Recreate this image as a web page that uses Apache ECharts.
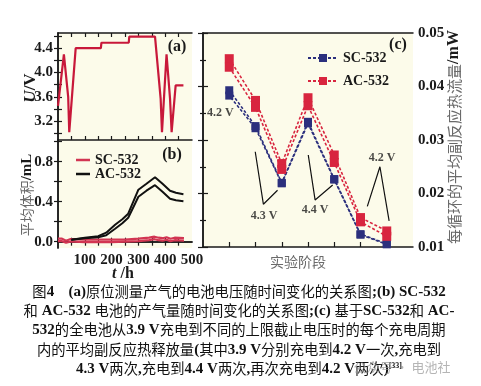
<!DOCTYPE html>
<html><head><meta charset="utf-8">
<script src="https://cdn.jsdelivr.net/npm/echarts@6/dist/echarts.min.js"></script>
<style>html,body{margin:0;padding:0;background:#fff}#c{width:481px;height:386px}</style>
</head><body><div id="c"></div>
<script>
// ---------- Panel (a): voltage vs time ----------
const tA = [0, 22, 38, 42, 66, 160, 162, 264, 266, 362, 383, 388, 405, 418, 424, 439, 468];
const vA = [3.45, 4.30, 3.60, 3.02, 4.40, 4.40, 4.49, 4.49, 4.59, 4.59, 3.57, 3.02, 4.30, 3.57, 3.02, 3.79, 3.79];
const yTicksA = [3.0, 3.2, 3.4, 3.6, 3.8, 4.0, 4.2, 4.4, 4.6];
const yLabelsA = [3.2, 3.6, 4.0, 4.4];

// ---------- Panel (b): gas volume vs time ----------
const tAC = [50, 100, 150, 180, 213, 240, 262, 300, 330, 362, 390, 418, 440, 468];
const acHigh = [0.02, 0.04, 0.055, 0.09, 0.17, 0.225, 0.28, 0.52, 0.58, 0.645, 0.58, 0.51, 0.49, 0.475];
const acLow  = [0.02, 0.035, 0.045, 0.065, 0.13, 0.185, 0.24, 0.45, 0.51, 0.565, 0.50, 0.43, 0.415, 0.405];
const tSC = [0, 15, 30, 45, 60, 100, 150, 200, 250, 300, 340, 360, 375, 390, 405, 420, 435, 470];
const scHigh = [0.03, 0.03, 0.01, 0.025, 0.025, 0.02, 0.02, 0.02, 0.02, 0.03, 0.04, 0.05, 0.04, 0.035, 0.045, 0.03, 0.04, 0.035];
const scLow  = [0.005, 0.005, -0.01, 0.0, 0.0, -0.005, -0.005, -0.005, 0.0, 0.005, 0.015, 0.025, 0.015, 0.01, 0.02, 0.005, 0.015, 0.01];
const yTicksB = [0, 0.2, 0.4, 0.6, 0.8, 1.0];
const yLabelsB = [0, 0.4, 0.8];
const xTicksT = [50, 100, 150, 200, 250, 300, 350, 400, 450];
const xLabelsT = [100, 200, 300, 400, 500];

// ---------- Panel (c): heat flow per stage ----------
const stages = [1, 2, 3, 4, 5, 6, 7];
const scUpper = [0.0393, 0.0326, 0.0220, 0.0334, 0.0227, 0.0124, 0.0106];
const scLower = [0.0383, 0.0322, 0.0219, 0.0331, 0.0226, 0.0123, 0.0105];
const acUpper = [0.0452, 0.0374, 0.0256, 0.0379, 0.0272, 0.0155, 0.0130];
const acLower = [0.0436, 0.0361, 0.0245, 0.0364, 0.0258, 0.0147, 0.0120];
const ann43 = [[1.99, 0.0278], [2.30, 0.0180], [2.84, 0.0206]];
const ann44 = [[4.01, 0.0272], [4.27, 0.0188], [4.94, 0.0216]];
const ann42 = [[6.26, 0.0176], [6.74, 0.0250], [7.09, 0.0149]];
const annText = [
  {name: '4.2 V', value: [0.66, 0.0351]},
  {name: '4.3 V', value: [2.33, 0.0159]},
  {name: '4.4 V', value: [4.27, 0.0169]},
  {name: '4.2 V', value: [6.82, 0.0266]}
];

const caption = [
  '图4　(a)原位测量产气的电池电压随时间变化的关系图;(b) SC-532',
  '和 AC-532 电池的产气量随时间变化的关系图;(c) 基于SC-532和 AC-',
  '532的全电池从3.9 V充电到不同的上限截止电压时的每个充电周期',
  '内的平均副反应热释放量(其中3.9 V分别充电到4.2 V一次,充电到',
  '4.3 V两次,充电到4.4 V两次,再次充电到4.2 V两次)'
];

const serif = "'Liberation Serif', 'Times New Roman', serif";
const cjk = "'Noto Sans CJK SC', sans-serif";
const ink = '#1a1a1a';
const bg = '#fcfbea';
const zip = (a, b) => a.map((x, i) => [x, b[i]]);

function toRich(s) {
  const runs = s.match(/[\u3000-\u9fff\uff00-\uffef]+|[^\u3000-\u9fff\uff00-\uffef]+/g) || [];
  return runs.map(r => (/[\u3000-\u9fff\uff00-\uffef]/.test(r) ? '{c|' : '{l|') + r + '}').join('');
}

const lineAxis = {lineStyle: {color: ink, width: 1.5}};
const numLabel = {fontFamily: serif, fontWeight: 'bold', fontSize: 15, color: ink};

function tAxis(grid, pos, labels) {
  return {
    type: 'value', gridIndex: grid, position: pos, min: 0, max: 500,
    axisLine: lineAxis, splitLine: {show: false},
    axisTick: {inside: true, length: 4, lineStyle: {color: ink, width: 1.2}, customValues: xTicksT},
    axisLabel: labels ? Object.assign({margin: 5, customValues: xLabelsT}, numLabel) : {show: false}
  };
}
function yAxisMk(grid, pos, min, max, ticks, labels) {
  return {
    type: 'value', gridIndex: grid, position: pos, min: min, max: max,
    axisLine: lineAxis, splitLine: {show: false},
    axisTick: {inside: true, length: 4, lineStyle: {color: ink, width: 1.2}, customValues: ticks},
    axisLabel: labels ? Object.assign({margin: 5, customValues: labels, formatter: v => v.toFixed(1)}, numLabel) : {show: false}
  };
}

const chart = echarts.init(document.getElementById('c'), null, {renderer: 'canvas'});

const graphics = [];
// axis names
graphics.push({type: 'text', x: 31, y: 88, rotation: Math.PI / 2, style: {
  text: '{i|U}{n|/V}', align: 'center', verticalAlign: 'middle',
  rich: {i: {fontFamily: serif, fontStyle: 'italic', fontWeight: 'bold', fontSize: 17, fill: ink},
         n: {fontFamily: serif, fontWeight: 'bold', fontSize: 17, fill: ink}}}});
graphics.push({type: 'text', x: 27, y: 195, rotation: Math.PI / 2, style: {
  text: '{c|平均体积}{n|/mL}', align: 'center', verticalAlign: 'middle',
  rich: {c: {fontFamily: cjk, fontSize: 14, fill: '#6a6a6a'},
         n: {fontFamily: serif, fontWeight: 'bold', fontSize: 15, fill: ink}}}});
graphics.push({type: 'text', x: 454, y: 137, rotation: Math.PI / 2, style: {
  text: '{c|每循环的平均副反应热流量}{n|/mW}', align: 'center', verticalAlign: 'middle',
  rich: {c: {fontFamily: cjk, fontSize: 15, fill: '#6a6a6a'},
         n: {fontFamily: serif, fontWeight: 'bold', fontSize: 16, fill: ink}}}});
graphics.push({type: 'text', x: 123, y: 274, style: {
  text: '{i|t}{n| /h}', align: 'center', verticalAlign: 'middle',
  rich: {i: {fontFamily: serif, fontStyle: 'italic', fontWeight: 'bold', fontSize: 16, fill: ink},
         n: {fontFamily: serif, fontWeight: 'bold', fontSize: 16, fill: ink}}}});
graphics.push({type: 'text', x: 298, y: 262, style: {
  text: '实验阶段', align: 'center', verticalAlign: 'middle',
  fontFamily: cjk, fontSize: 14, fill: '#6a6a6a'}});
// panel labels
[['(a)', 177, 47], ['(b)', 172, 155], ['(c)', 398, 45]].forEach(p => {
  graphics.push({type: 'text', x: p[1], y: p[2], style: {text: p[0], align: 'center', verticalAlign: 'middle',
    fontFamily: serif, fontWeight: 'bold', fontSize: 16, fill: ink}});
});
// caption
const capY = [292, 311, 330, 350, 369];
const capRich = {
  c: {fontFamily: cjk, fontSize: 14.3, fill: '#111'},
  l: {fontFamily: serif, fontWeight: 'bold', fontSize: 15, fill: '#111'},
  s: {fontFamily: serif, fontWeight: 'bold', fontSize: 8, fill: '#111', verticalAlign: 'top'}
};
caption.forEach((line, i) => {
  const txt = toRich(line) + (i === caption.length - 1 ? '{s|[33]}' : '');
  graphics.push({type: 'text', x: 239, y: capY[i], style: {text: txt, align: 'center', verticalAlign: 'middle', rich: capRich}});
});
// watermark
graphics.push({type: 'text', x: 402, y: 367, z: 100, style: {text: '公众号 · 电池社', align: 'center', verticalAlign: 'middle',
  fontFamily: cjk, fontSize: 13, fill: 'rgba(150,150,150,0.7)'}});

const dashStyle = {type: [3, 2]};

const option = {
  backgroundColor: '#fff',
  animation: false,
  grid: [
    {left: 58, top: 33, width: 134, height: 107, show: true, backgroundColor: bg, borderWidth: 0},
    {left: 58, top: 140, width: 134, height: 108, show: true, backgroundColor: bg, borderWidth: 0},
    {left: 203, top: 33, width: 210, height: 214, show: true, backgroundColor: bg, borderWidth: 0}
  ],
  xAxis: [
    tAxis(0, 'bottom', false),
    tAxis(0, 'top', false),
    tAxis(1, 'bottom', true),
    tAxis(1, 'top', false),
    {type: 'value', gridIndex: 2, position: 'bottom', min: 0, max: 8,
     axisLine: lineAxis, splitLine: {show: false},
     axisTick: {inside: true, length: 5, lineStyle: {color: ink, width: 1.2}, customValues: stages},
     axisLabel: {show: false}},
    {type: 'value', gridIndex: 2, position: 'top', min: 0, max: 8,
     axisLine: lineAxis, splitLine: {show: false}, axisTick: {show: false}, axisLabel: {show: false}}
  ],
  yAxis: [
    yAxisMk(0, 'left', 2.89, 4.65, yTicksA, yLabelsA),
    yAxisMk(0, 'right', 2.89, 4.65, yTicksA, null),
    yAxisMk(1, 'left', -0.063, 1.017, yTicksB, yLabelsB),
    yAxisMk(1, 'right', -0.063, 1.017, yTicksB, null),
    {type: 'value', gridIndex: 2, position: 'right', min: 0.01, max: 0.05, interval: 0.01,
     axisLine: lineAxis, splitLine: {show: false},
     axisTick: {inside: true, length: 5, lineStyle: {color: ink, width: 1.2}},
     minorTick: {show: true, splitNumber: 2, length: 3, lineStyle: {color: ink, width: 1.2}},
     axisLabel: Object.assign({margin: 5, formatter: v => v.toFixed(2)}, numLabel)},
    {type: 'value', gridIndex: 2, position: 'left', min: 0.01, max: 0.05, interval: 0.01,
     axisLine: lineAxis, splitLine: {show: false},
     axisTick: {inside: true, length: 5, lineStyle: {color: ink, width: 1.2}},
     minorTick: {show: true, splitNumber: 2, length: 3, lineStyle: {color: ink, width: 1.2}},
     axisLabel: {show: false}}
  ],
  legend: [
    {data: ['SC-532', 'AC-532'], orient: 'vertical', left: 71, top: 148, icon: 'rect', itemWidth: 14, itemHeight: 2.5, itemGap: 0,
     textStyle: {fontFamily: serif, fontWeight: 'bold', fontSize: 14, lineHeight: 14, color: ink}},
    {data: ['SC-532 c', 'AC-532 c'], orient: 'vertical', left: 302, top: 46, itemWidth: 30, itemHeight: 10, itemGap: 9,
     formatter: n => n.replace(' c', ''),
     textStyle: {fontFamily: serif, fontWeight: 'bold', fontSize: 14, color: ink}}
  ],
  series: [
    {type: 'line', name: 'U', xAxisIndex: 0, yAxisIndex: 0, data: zip(tA, vA), symbol: 'none',
     lineStyle: {color: '#c8183a', width: 2.2}, itemStyle: {color: '#c8183a'}},
    {type: 'line', name: 'SC-532', xAxisIndex: 2, yAxisIndex: 2, data: zip(tSC, scHigh), symbol: 'none',
     lineStyle: {color: '#d23552', width: 2.2}, itemStyle: {color: '#d23552'}},
    {type: 'line', name: 'SC-532', xAxisIndex: 2, yAxisIndex: 2, data: zip(tSC, scLow), symbol: 'none',
     lineStyle: {color: '#d23552', width: 2.2}, itemStyle: {color: '#d23552'}},
    {type: 'line', name: 'AC-532', xAxisIndex: 2, yAxisIndex: 2, data: zip(tAC, acHigh), symbol: 'none',
     lineStyle: {color: '#111', width: 2}, itemStyle: {color: '#111'}},
    {type: 'line', name: 'AC-532', xAxisIndex: 2, yAxisIndex: 2, data: zip(tAC, acLow), symbol: 'none',
     lineStyle: {color: '#111', width: 2}, itemStyle: {color: '#111'}},
    {type: 'line', name: 'SC-532 c', xAxisIndex: 4, yAxisIndex: 4, data: zip(stages, scUpper), symbol: 'rect', symbolSize: 8,
     lineStyle: Object.assign({color: '#2b2f7d', width: 1.6}, dashStyle), itemStyle: {color: '#2b2f7d'}},
    {type: 'line', name: 'SC-532 c', xAxisIndex: 4, yAxisIndex: 4, data: zip(stages, scLower), symbol: 'rect', symbolSize: 8,
     lineStyle: {color: '#2b2f7d', width: 1.6, type: [3, 2], dashOffset: 2.5}, itemStyle: {color: '#2b2f7d'}},
    {type: 'line', name: 'AC-532 c', xAxisIndex: 4, yAxisIndex: 4, data: zip(stages, acUpper), symbol: 'rect', symbolSize: 9,
     lineStyle: Object.assign({color: '#d8253f', width: 1.6}, dashStyle), itemStyle: {color: '#d8253f'}},
    {type: 'line', name: 'AC-532 c', xAxisIndex: 4, yAxisIndex: 4, data: zip(stages, acLower), symbol: 'rect', symbolSize: 9,
     lineStyle: Object.assign({color: '#d8253f', width: 1.6}, dashStyle), itemStyle: {color: '#d8253f'}},
    {type: 'line', xAxisIndex: 4, yAxisIndex: 4, data: ann43, symbol: 'none', silent: true, lineStyle: {color: '#111', width: 1.2}},
    {type: 'line', xAxisIndex: 4, yAxisIndex: 4, data: ann44, symbol: 'none', silent: true, lineStyle: {color: '#111', width: 1.2}},
    {type: 'line', xAxisIndex: 4, yAxisIndex: 4, data: ann42, symbol: 'none', silent: true, lineStyle: {color: '#111', width: 1.2}},
    {type: 'scatter', xAxisIndex: 4, yAxisIndex: 4, data: annText, symbolSize: 0, silent: true,
     label: {show: true, position: 'inside', formatter: p => p.name, fontFamily: serif, fontWeight: 'bold', fontSize: 12, color: ink}}
  ],
  graphic: graphics
};
chart.setOption(option);
</script></body></html>
